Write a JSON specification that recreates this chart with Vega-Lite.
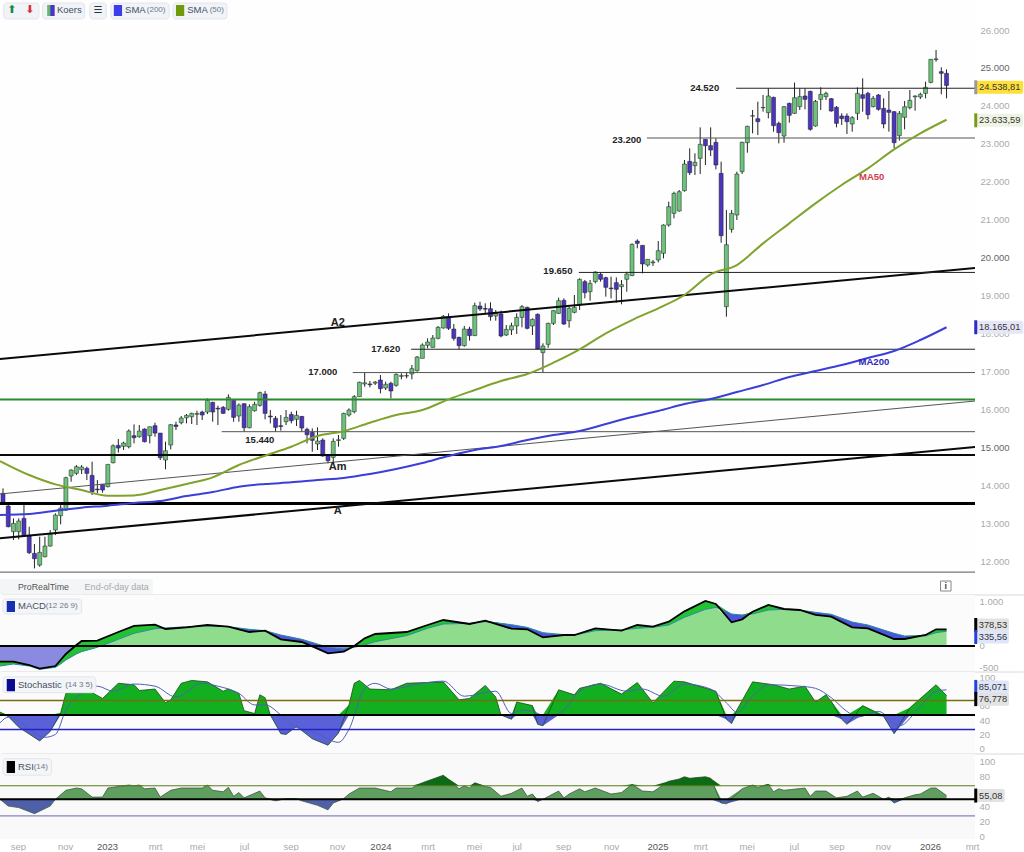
{
"$schema":"https://vega.github.io/schema/vega-lite/v6.json",
"background":"#ffffff","padding":0,"spacing":0,"bounds":"flush","autosize":{"type":"pad"},
"config":{"view":{"stroke":null},"text":{"font":"Liberation Sans"},"axis":{"labelFont":"Liberation Sans","domain":false,"ticks":false,"grid":false,"labelOverlap":false,"labelBound":false}},
"datasets":{
"candles":[
{"d":"2022-08-15","o":13786,"h":13918,"l":13478,"c":13505},{"d":"2022-08-22","o":13452,"h":13478,"l":12890,"c":12907},{"d":"2022-08-29","o":12775,"h":13127,"l":12556,"c":12995},{"d":"2022-09-05","o":12775,"h":13127,"l":12573,"c":13057},{"d":"2022-09-12","o":13127,"h":13478,"l":12643,"c":12661},{"d":"2022-09-19","o":12661,"h":12907,"l":12187,"c":12222},{"d":"2022-09-26","o":12204,"h":12450,"l":11809,"c":12063},{"d":"2022-10-03","o":11896,"h":12643,"l":11852,"c":12231},{"d":"2022-10-10","o":12116,"h":12643,"l":12099,"c":12397},{"d":"2022-10-17","o":12397,"h":12819,"l":12380,"c":12714},
{"d":"2022-10-24","o":12819,"h":13259,"l":12687,"c":13215},{"d":"2022-10-31","o":13197,"h":13478,"l":12968,"c":13399},{"d":"2022-11-07","o":13346,"h":14225,"l":13329,"c":14199},{"d":"2022-11-14","o":14243,"h":14419,"l":14093,"c":14401},{"d":"2022-11-21","o":14313,"h":14533,"l":14269,"c":14489},{"d":"2022-11-28","o":14410,"h":14533,"l":14296,"c":14480},{"d":"2022-12-05","o":14445,"h":14489,"l":14137,"c":14313},{"d":"2022-12-12","o":14260,"h":14621,"l":13742,"c":13830},{"d":"2022-12-19","o":13900,"h":14137,"l":13786,"c":13880},{"d":"2022-12-26","o":14023,"h":14023,"l":13804,"c":13874},
{"d":"2023-01-02","o":13962,"h":14550,"l":13944,"c":14550},{"d":"2023-01-09","o":14594,"h":15078,"l":14577,"c":15042},{"d":"2023-01-16","o":15051,"h":15218,"l":14858,"c":14981},{"d":"2023-01-23","o":15025,"h":15148,"l":14928,"c":15113},{"d":"2023-01-30","o":15016,"h":15473,"l":14972,"c":15429},{"d":"2023-02-06","o":15306,"h":15605,"l":15104,"c":15253},{"d":"2023-02-13","o":15280,"h":15587,"l":15253,"c":15429},{"d":"2023-02-20","o":15482,"h":15500,"l":15130,"c":15148},{"d":"2023-02-27","o":15306,"h":15543,"l":15104,"c":15543},{"d":"2023-03-06","o":15570,"h":15649,"l":15280,"c":15376},
{"d":"2023-03-13","o":15376,"h":15376,"l":14665,"c":14726},{"d":"2023-03-20","o":14665,"h":15148,"l":14419,"c":14911},{"d":"2023-03-27","o":15060,"h":15614,"l":14946,"c":15596},{"d":"2023-04-03","o":15590,"h":15675,"l":15456,"c":15550},{"d":"2023-04-10","o":15649,"h":15825,"l":15605,"c":15772},{"d":"2023-04-17","o":15780,"h":15877,"l":15631,"c":15842},{"d":"2023-04-24","o":15807,"h":15912,"l":15614,"c":15895},{"d":"2023-05-01","o":15870,"h":15965,"l":15587,"c":15890},{"d":"2023-05-08","o":15930,"h":15965,"l":15719,"c":15851},{"d":"2023-05-15","o":15930,"h":16290,"l":15877,"c":16237},
{"d":"2023-05-22","o":16185,"h":16202,"l":15675,"c":15930},{"d":"2023-05-29","o":16030,"h":16097,"l":15587,"c":16010},{"d":"2023-06-05","o":16053,"h":16088,"l":15877,"c":15895},{"d":"2023-06-12","o":16000,"h":16396,"l":15965,"c":16317},{"d":"2023-06-19","o":16237,"h":16246,"l":15675,"c":15789},{"d":"2023-06-26","o":15825,"h":16158,"l":15675,"c":16114},{"d":"2023-07-03","o":16150,"h":16158,"l":15412,"c":15517},{"d":"2023-07-10","o":15517,"h":16132,"l":15500,"c":16071},{"d":"2023-07-17","o":15965,"h":16202,"l":15939,"c":16132},{"d":"2023-07-24","o":16106,"h":16466,"l":16071,"c":16440},
{"d":"2023-07-31","o":16405,"h":16484,"l":15737,"c":15895},{"d":"2023-08-07","o":15825,"h":15983,"l":15631,"c":15800},{"d":"2023-08-14","o":15763,"h":15825,"l":15412,"c":15526},{"d":"2023-08-21","o":15570,"h":15851,"l":15438,"c":15550},{"d":"2023-08-28","o":15675,"h":15983,"l":15587,"c":15789},{"d":"2023-09-04","o":15868,"h":15939,"l":15631,"c":15701},{"d":"2023-09-11","o":15737,"h":15965,"l":15561,"c":15842},{"d":"2023-09-18","o":15816,"h":15825,"l":15412,"c":15508},{"d":"2023-09-25","o":15473,"h":15517,"l":15104,"c":15332},{"d":"2023-10-02","o":15394,"h":15500,"l":14884,"c":15183},
{"d":"2023-10-09","o":15087,"h":15526,"l":14928,"c":15165},{"d":"2023-10-16","o":15192,"h":15236,"l":14753,"c":14770},{"d":"2023-10-23","o":14779,"h":14797,"l":14577,"c":14647},{"d":"2023-10-30","o":14735,"h":15236,"l":14577,"c":15157},{"d":"2023-11-06","o":15180,"h":15324,"l":15016,"c":15200},{"d":"2023-11-13","o":15236,"h":15912,"l":15192,"c":15895},{"d":"2023-11-20","o":15851,"h":16027,"l":15807,"c":15983},{"d":"2023-11-27","o":15939,"h":16378,"l":15895,"c":16335},{"d":"2023-12-04","o":16335,"h":16730,"l":16335,"c":16713},{"d":"2023-12-11","o":16670,"h":16967,"l":16598,"c":16700},
{"d":"2023-12-18","o":16670,"h":16748,"l":16581,"c":16650},{"d":"2023-12-25","o":16690,"h":16748,"l":16642,"c":16720},{"d":"2024-01-01","o":16774,"h":16906,"l":16423,"c":16545},{"d":"2024-01-08","o":16563,"h":16730,"l":16510,"c":16660},{"d":"2024-01-15","o":16686,"h":16730,"l":16291,"c":16484},{"d":"2024-01-22","o":16633,"h":16950,"l":16598,"c":16923},{"d":"2024-01-29","o":16870,"h":16950,"l":16792,"c":16890},{"d":"2024-02-05","o":16880,"h":16967,"l":16818,"c":16890},{"d":"2024-02-12","o":16932,"h":17169,"l":16792,"c":17073},{"d":"2024-02-19","o":17020,"h":17407,"l":16994,"c":17380},
{"d":"2024-02-26","o":17345,"h":17741,"l":17345,"c":17697},{"d":"2024-03-04","o":17688,"h":17872,"l":17609,"c":17776},{"d":"2024-03-11","o":17635,"h":17960,"l":17626,"c":17881},{"d":"2024-03-18","o":17872,"h":18198,"l":17846,"c":18162},{"d":"2024-03-25","o":18145,"h":18487,"l":18127,"c":18452},{"d":"2024-04-01","o":18444,"h":18531,"l":18092,"c":18136},{"d":"2024-04-08","o":18118,"h":18250,"l":17811,"c":17872},{"d":"2024-04-15","o":17899,"h":17916,"l":17591,"c":17679},{"d":"2024-04-22","o":17679,"h":18198,"l":17653,"c":18118},{"d":"2024-04-29","o":18118,"h":18180,"l":17811,"c":17943},
{"d":"2024-05-06","o":17943,"h":18813,"l":17934,"c":18734},{"d":"2024-05-13","o":18725,"h":18839,"l":18593,"c":18646},{"d":"2024-05-20","o":18660,"h":18795,"l":18532,"c":18640},{"d":"2024-05-27","o":18654,"h":18822,"l":18338,"c":18444},{"d":"2024-06-03","o":18461,"h":18619,"l":18338,"c":18531},{"d":"2024-06-10","o":18514,"h":18602,"l":17899,"c":17934},{"d":"2024-06-17","o":17960,"h":18224,"l":17934,"c":18110},{"d":"2024-06-24","o":18092,"h":18285,"l":17960,"c":18206},{"d":"2024-07-01","o":18198,"h":18531,"l":17987,"c":18426},{"d":"2024-07-08","o":18426,"h":18751,"l":18162,"c":18707},
{"d":"2024-07-15","o":18690,"h":18707,"l":18110,"c":18136},{"d":"2024-07-22","o":18198,"h":18400,"l":17960,"c":18373},{"d":"2024-07-29","o":18505,"h":18531,"l":17591,"c":17591},{"d":"2024-08-05","o":17495,"h":17741,"l":16967,"c":17670},{"d":"2024-08-12","o":17714,"h":18285,"l":17626,"c":18268},{"d":"2024-08-19","o":18268,"h":18619,"l":18224,"c":18602},{"d":"2024-08-26","o":18531,"h":18944,"l":18514,"c":18865},{"d":"2024-09-02","o":18874,"h":18927,"l":18224,"c":18250},{"d":"2024-09-09","o":18338,"h":18707,"l":18154,"c":18663},{"d":"2024-09-16","o":18558,"h":19015,"l":18531,"c":18690},
{"d":"2024-09-23","o":18751,"h":19454,"l":18619,"c":19428},{"d":"2024-09-30","o":19366,"h":19410,"l":18927,"c":19076},{"d":"2024-10-07","o":19103,"h":19410,"l":18865,"c":19322},{"d":"2024-10-14","o":19366,"h":19639,"l":19322,"c":19621},{"d":"2024-10-21","o":19560,"h":19603,"l":19366,"c":19428},{"d":"2024-10-28","o":19472,"h":19498,"l":18971,"c":19217},{"d":"2024-11-04","o":19200,"h":19498,"l":18927,"c":19180},{"d":"2024-11-11","o":19340,"h":19480,"l":18813,"c":19164},{"d":"2024-11-18","o":19234,"h":19410,"l":18769,"c":19287},{"d":"2024-11-25","o":19428,"h":19630,"l":19103,"c":19568},
{"d":"2024-12-02","o":19524,"h":20376,"l":19515,"c":20350},{"d":"2024-12-09","o":20438,"h":20482,"l":20245,"c":20376},{"d":"2024-12-16","o":20324,"h":20324,"l":19585,"c":19832},{"d":"2024-12-23","o":19805,"h":19955,"l":19761,"c":19955},{"d":"2024-12-30","o":19865,"h":19937,"l":19779,"c":19885},{"d":"2025-01-06","o":19937,"h":20438,"l":19875,"c":20183},{"d":"2025-01-13","o":20113,"h":20877,"l":19981,"c":20860},{"d":"2025-01-20","o":20860,"h":21475,"l":20816,"c":21343},{"d":"2025-01-27","o":21167,"h":21738,"l":21035,"c":21694},{"d":"2025-02-03","o":21229,"h":21782,"l":21211,"c":21738},
{"d":"2025-02-10","o":21765,"h":22573,"l":21738,"c":22468},{"d":"2025-02-17","o":22538,"h":22881,"l":22178,"c":22239},{"d":"2025-02-24","o":22424,"h":22749,"l":22178,"c":22512},{"d":"2025-03-03","o":22617,"h":23434,"l":22204,"c":22986},{"d":"2025-03-10","o":23118,"h":23118,"l":22441,"c":22951},{"d":"2025-03-17","o":22951,"h":23434,"l":22678,"c":22837},{"d":"2025-03-24","o":23039,"h":23144,"l":22327,"c":22441},{"d":"2025-03-31","o":22222,"h":22529,"l":20394,"c":20578},{"d":"2025-04-07","o":18707,"h":21255,"l":18443,"c":20341},{"d":"2025-04-14","o":20745,"h":21255,"l":20658,"c":21167},
{"d":"2025-04-21","o":21123,"h":22266,"l":20991,"c":22204},{"d":"2025-04-28","o":22266,"h":23056,"l":22204,"c":23039},{"d":"2025-05-05","o":23030,"h":23478,"l":22766,"c":23461},{"d":"2025-05-12","o":23730,"h":23891,"l":23276,"c":23740},{"d":"2025-05-19","o":23663,"h":24111,"l":23232,"c":23584},{"d":"2025-05-26","o":23950,"h":24287,"l":23847,"c":23960},{"d":"2025-06-02","o":23821,"h":24462,"l":23671,"c":24260},{"d":"2025-06-09","o":24225,"h":24243,"l":23320,"c":23478},{"d":"2025-06-16","o":23540,"h":23584,"l":23012,"c":23294},{"d":"2025-06-23","o":23206,"h":23997,"l":23030,"c":23979},
{"d":"2025-06-30","o":24067,"h":24084,"l":23557,"c":23751},{"d":"2025-07-07","o":23803,"h":24612,"l":23786,"c":24216},{"d":"2025-07-14","o":23979,"h":24462,"l":23891,"c":24243},{"d":"2025-07-21","o":24260,"h":24462,"l":23909,"c":24172},{"d":"2025-07-28","o":24383,"h":24401,"l":23346,"c":23382},{"d":"2025-08-04","o":23469,"h":24155,"l":23452,"c":24120},{"d":"2025-08-11","o":24172,"h":24489,"l":23891,"c":24304},{"d":"2025-08-18","o":24243,"h":24374,"l":24155,"c":24330},{"d":"2025-08-25","o":24190,"h":24207,"l":23847,"c":23865},{"d":"2025-09-01","o":23961,"h":23997,"l":23434,"c":23540},
{"d":"2025-09-08","o":23733,"h":23803,"l":23496,"c":23663},{"d":"2025-09-15","o":23733,"h":23803,"l":23258,"c":23584},{"d":"2025-09-22","o":23522,"h":23733,"l":23320,"c":23689},{"d":"2025-09-29","o":23803,"h":24489,"l":23628,"c":24330},{"d":"2025-10-06","o":24295,"h":24726,"l":23847,"c":24199},{"d":"2025-10-13","o":24330,"h":24374,"l":23645,"c":23768},{"d":"2025-10-20","o":23979,"h":24260,"l":23961,"c":24199},{"d":"2025-10-27","o":24286,"h":24313,"l":23874,"c":23909},{"d":"2025-11-03","o":23935,"h":24199,"l":23408,"c":23522},{"d":"2025-11-10","o":23891,"h":24392,"l":23320,"c":23830},
{"d":"2025-11-17","o":23847,"h":23865,"l":22881,"c":23030},{"d":"2025-11-24","o":23215,"h":23865,"l":23083,"c":23803},{"d":"2025-12-01","o":23698,"h":24128,"l":23382,"c":23979},{"d":"2025-12-08","o":23953,"h":24418,"l":23909,"c":24146},{"d":"2025-12-15","o":24240,"h":24278,"l":23873,"c":24260},{"d":"2025-12-22","o":24234,"h":24348,"l":24181,"c":24304},{"d":"2025-12-29","o":24330,"h":24638,"l":24199,"c":24489},{"d":"2026-01-05","o":24620,"h":25236,"l":24594,"c":25227},{"d":"2026-01-12","o":25220,"h":25473,"l":25165,"c":25240},{"d":"2026-01-19","o":24902,"h":25016,"l":24304,"c":24858},{"d":"2026-01-26","o":24858,"h":24963,"l":24199,"c":24538}
],
"ma":[
{"d":"2022-08-11","ma50":14638,"ma200":13215},{"d":"2022-09-19","ma50":14269,"ma200":13240},{"d":"2022-10-24","ma50":14023,"ma200":13329},{"d":"2022-11-28","ma50":13874,"ma200":13408},{"d":"2023-01-02","ma50":13724,"ma200":13461},{"d":"2023-02-06","ma50":13733,"ma200":13531},{"d":"2023-03-13","ma50":13874,"ma200":13584},{"d":"2023-04-17","ma50":14032,"ma200":13716},{"d":"2023-05-22","ma50":14208,"ma200":13821},{"d":"2023-06-26","ma50":14533,"ma200":13962},{"d":"2023-07-31","ma50":14779,"ma200":14032},{"d":"2023-09-04","ma50":15016,"ma200":14076},{"d":"2023-10-09","ma50":15297,"ma200":14137},{"d":"2023-11-13","ma50":15425,"ma200":14190},{"d":"2023-12-18","ma50":15649,"ma200":14296},{"d":"2024-01-22","ma50":15851,"ma200":14428},{"d":"2024-02-26","ma50":15983,"ma200":14586},{"d":"2024-04-01","ma50":16264,"ma200":14770},{"d":"2024-05-06","ma50":16510,"ma200":14929},{"d":"2024-06-10","ma50":16748,"ma200":15034},{"d":"2024-07-15","ma50":16932,"ma200":15192},{"d":"2024-08-19","ma50":17231,"ma200":15324},{"d":"2024-09-23","ma50":17583,"ma200":15430},{"d":"2024-10-28","ma50":18004,"ma200":15614},{"d":"2024-12-02","ma50":18355,"ma200":15799},{"d":"2025-01-06","ma50":18663,"ma200":15957},{"d":"2025-02-10","ma50":19014,"ma200":16141},{"d":"2025-03-17","ma50":19559,"ma200":16273},{"d":"2025-04-21","ma50":19805,"ma200":16458},{"d":"2025-05-26","ma50":20376,"ma200":16642},{"d":"2025-06-30","ma50":20904,"ma200":16853},{"d":"2025-08-04","ma50":21431,"ma200":17011},{"d":"2025-09-08","ma50":21914,"ma200":17169},{"d":"2025-10-13","ma50":22353,"ma200":17354},{"d":"2025-11-17","ma50":22854,"ma200":17538},{"d":"2025-12-22","ma50":23276,"ma200":17828},{"d":"2026-01-26","ma50":23634,"ma200":18165}
],
"lines":[
{"name":"A2","d":"2022-08-11","v":17327},{"name":"A2","d":"2026-03-05","v":19726},
{"name":"A","d":"2022-08-11","v":12600},{"name":"A","d":"2026-03-05","v":15008},
{"name":"Am","d":"2022-08-11","v":13770},{"name":"Am","d":"2026-03-05","v":16220},
{"name":"h13520","d":"2022-08-11","v":13520},{"name":"h13520","d":"2026-03-05","v":13520},
{"name":"h14800","d":"2022-08-11","v":14800},{"name":"h14800","d":"2026-03-05","v":14800},
{"name":"h16260","d":"2022-08-11","v":16260},{"name":"h16260","d":"2026-03-05","v":16260},
{"name":"h15440","d":"2023-06-03","v":15412},{"name":"h15440","d":"2026-03-05","v":15412},
{"name":"h17000","d":"2023-11-25","v":16970},{"name":"h17000","d":"2026-03-05","v":16970},
{"name":"h17620","d":"2024-02-11","v":17585},{"name":"h17620","d":"2026-03-05","v":17585},
{"name":"h19650","d":"2024-09-22","v":19610},{"name":"h19650","d":"2026-03-05","v":19610},
{"name":"h23200","d":"2024-12-22","v":23153},{"name":"h23200","d":"2026-03-05","v":23153},
{"name":"h24520","d":"2025-04-20","v":24465},{"name":"h24520","d":"2026-03-05","v":24465},
{"name":"h11710","d":"2022-08-11","v":11710},{"name":"h11710","d":"2026-03-05","v":11710}
],
"notes":[
{"d":"2025-03-09","p":24471,"label":"24.520","kind":"level"},{"d":"2024-11-25","p":23100,"label":"23.200","kind":"level"},{"d":"2024-08-25","p":19647,"label":"19.650","kind":"level"},{"d":"2024-01-08","p":17591,"label":"17.620","kind":"level"},{"d":"2023-10-16","p":16985,"label":"17.000","kind":"level"},{"d":"2023-07-24","p":15192,"label":"15.440","kind":"level"},
{"d":"2023-11-05","p":18276,"label":"A2","kind":"trend"},{"d":"2023-11-05","p":14480,"label":"Am","kind":"trend"},{"d":"2023-11-05","p":13320,"label":"A","kind":"trend"},
{"d":"2025-10-18","p":22125,"label":"MA50","kind":"ma50"},{"d":"2025-10-21","p":17248,"label":"MA200","kind":"ma200"},
{"d":"2022-10-26","p":26527,"label":"Koers","kind":"chip"},{"d":"2023-01-25","p":26527,"label":"SMA","kind":"chip"},{"d":"2023-04-18","p":26527,"label":"SMA","kind":"chip"},
{"d":"2023-02-23","p":26527,"label":"(200)","kind":"param"},{"d":"2023-05-18","p":26527,"label":"(50)","kind":"param"},
{"d":"2022-09-04","p":11317,"label":"ProRealTime","kind":"prt"},{"d":"2022-12-02","p":11317,"label":"End-of-day data","kind":"eod"}
],
"flags":[
{"panel":"price","kind":"last","label":"24.538,81","p":24490,"d":"2026-04-07","b":"2026-03-06"},
{"panel":"price","kind":"ma50","label":"23.633,59","p":23620,"d":"2026-04-07","b":"2026-03-06"},
{"panel":"price","kind":"ma200","label":"18.165,01","p":18165,"d":"2026-04-07","b":"2026-03-06"},
{"panel":"macd","kind":"black","label":"378,53","p":477,"d":"2026-03-29","b":"2026-03-06"},
{"panel":"macd","kind":"blue","label":"335,56","p":205,"d":"2026-03-29","b":"2026-03-06"},
{"panel":"stoch","kind":"blue","label":"85,071","p":89,"d":"2026-03-29","b":"2026-03-06"},
{"panel":"stoch","kind":"black","label":"76,778","p":72,"d":"2026-03-29","b":"2026-03-06"},
{"panel":"rsi","kind":"black","label":"55,08","p":55,"d":"2026-03-26","b":"2026-03-06"}
],
"levels":[
{"panel":"macd","lv":0,"d":"2022-08-11"},{"panel":"macd","lv":0,"d":"2026-03-05"},
{"panel":"stoch","lv":70,"d":"2022-08-11"},{"panel":"stoch","lv":70,"d":"2026-03-05"},
{"panel":"stoch","lv":50,"d":"2022-08-11"},{"panel":"stoch","lv":50,"d":"2026-03-05"},
{"panel":"stoch","lv":30,"d":"2022-08-11"},{"panel":"stoch","lv":30,"d":"2026-03-05"},
{"panel":"rsi","lv":68,"d":"2022-08-11"},{"panel":"rsi","lv":68,"d":"2026-03-05"},
{"panel":"rsi","lv":50,"d":"2022-08-11"},{"panel":"rsi","lv":50,"d":"2026-03-05"},
{"panel":"rsi","lv":28,"d":"2022-08-11"},{"panel":"rsi","lv":28,"d":"2026-03-05"}
],
"macd":[
{"d":"2022-08-11","m":-356,"s":-455,"hi":-356,"pos":0,"neg":-356},{"d":"2022-08-29","m":-356,"s":-409,"hi":-356,"pos":0,"neg":-356},{"d":"2022-09-19","m":-432,"s":-455,"hi":-432,"pos":0,"neg":-432},{"d":"2022-10-03","m":-515,"s":-530,"hi":-515,"pos":0,"neg":-515},{"d":"2022-10-24","m":-455,"s":-485,"hi":-455,"pos":0,"neg":-455},{"d":"2022-10-31","m":-318,"s":-409,"hi":-318,"pos":0,"neg":-318},{"d":"2022-11-07","m":-182,"s":-318,"hi":-182,"pos":0,"neg":-182},{"d":"2022-11-21","m":23,"s":-182,"hi":23,"pos":0,"neg":0},{"d":"2022-11-28","m":114,"s":-129,"hi":114,"pos":0,"neg":0},{"d":"2022-12-19","m":121,"s":-30,"hi":121,"pos":0,"neg":0},
{"d":"2023-01-16","m":318,"s":152,"hi":318,"pos":152,"neg":0},{"d":"2023-02-06","m":455,"s":288,"hi":455,"pos":288,"neg":0},{"d":"2023-03-06","m":485,"s":394,"hi":485,"pos":394,"neg":0},{"d":"2023-03-20","m":386,"s":409,"hi":409,"pos":386,"neg":0},{"d":"2023-04-17","m":424,"s":439,"hi":439,"pos":424,"neg":0},{"d":"2023-05-15","m":477,"s":455,"hi":477,"pos":455,"neg":0},{"d":"2023-06-12","m":439,"s":439,"hi":439,"pos":439,"neg":0},{"d":"2023-07-10","m":318,"s":379,"hi":379,"pos":318,"neg":0},{"d":"2023-07-31","m":348,"s":348,"hi":348,"pos":348,"neg":0},{"d":"2023-08-21","m":152,"s":250,"hi":250,"pos":152,"neg":0},{"d":"2023-09-18","m":91,"s":152,"hi":152,"pos":91,"neg":0},
{"d":"2023-10-09","m":-61,"s":45,"hi":45,"pos":0,"neg":0},{"d":"2023-10-23","m":-167,"s":-30,"hi":-30,"pos":0,"neg":-30},{"d":"2023-11-13","m":-129,"s":-68,"hi":-68,"pos":0,"neg":-68},{"d":"2023-11-27","m":0,"s":-30,"hi":0,"pos":0,"neg":0},{"d":"2023-12-11","m":174,"s":23,"hi":174,"pos":23,"neg":0},{"d":"2023-12-25","m":273,"s":98,"hi":273,"pos":98,"neg":0},{"d":"2024-02-05","m":318,"s":235,"hi":318,"pos":235,"neg":0},{"d":"2024-03-04","m":477,"s":402,"hi":477,"pos":402,"neg":0},{"d":"2024-03-25","m":591,"s":500,"hi":591,"pos":500,"neg":0},{"d":"2024-04-29","m":500,"s":515,"hi":515,"pos":500,"neg":0},{"d":"2024-05-20","m":576,"s":553,"hi":576,"pos":553,"neg":0},{"d":"2024-06-24","m":394,"s":485,"hi":485,"pos":394,"neg":0},{"d":"2024-07-15","m":379,"s":424,"hi":424,"pos":379,"neg":0},{"d":"2024-08-05","m":197,"s":303,"hi":303,"pos":197,"neg":0},{"d":"2024-09-02","m":250,"s":258,"hi":258,"pos":250,"neg":0},{"d":"2024-09-16","m":250,"s":250,"hi":250,"pos":250,"neg":0},{"d":"2024-10-14","m":402,"s":348,"hi":402,"pos":348,"neg":0},{"d":"2024-11-18","m":348,"s":364,"hi":364,"pos":348,"neg":0},{"d":"2024-12-09","m":477,"s":402,"hi":477,"pos":402,"neg":0},{"d":"2024-12-30","m":439,"s":424,"hi":439,"pos":424,"neg":0},
{"d":"2025-01-20","m":553,"s":477,"hi":553,"pos":477,"neg":0},{"d":"2025-02-10","m":788,"s":652,"hi":788,"pos":652,"neg":0},{"d":"2025-03-10","m":1023,"s":833,"hi":1023,"pos":833,"neg":0},{"d":"2025-03-24","m":955,"s":879,"hi":955,"pos":879,"neg":0},{"d":"2025-04-14","m":538,"s":727,"hi":727,"pos":538,"neg":0},{"d":"2025-04-28","m":606,"s":704,"hi":704,"pos":606,"neg":0},{"d":"2025-05-12","m":780,"s":727,"hi":780,"pos":727,"neg":0},{"d":"2025-06-02","m":932,"s":818,"hi":932,"pos":818,"neg":0},{"d":"2025-06-23","m":841,"s":833,"hi":841,"pos":833,"neg":0},{"d":"2025-07-14","m":818,"s":818,"hi":818,"pos":818,"neg":0},{"d":"2025-08-04","m":705,"s":765,"hi":765,"pos":705,"neg":0},{"d":"2025-08-25","m":667,"s":720,"hi":720,"pos":667,"neg":0},{"d":"2025-09-22","m":424,"s":545,"hi":545,"pos":424,"neg":0},{"d":"2025-10-13","m":402,"s":477,"hi":477,"pos":402,"neg":0},{"d":"2025-11-17","m":159,"s":288,"hi":288,"pos":159,"neg":0},{"d":"2025-12-01","m":159,"s":227,"hi":227,"pos":159,"neg":0},{"d":"2025-12-29","m":250,"s":227,"hi":250,"pos":227,"neg":0},{"d":"2026-01-12","m":379,"s":303,"hi":379,"pos":303,"neg":0},{"d":"2026-01-26","m":378,"s":336,"hi":378,"pos":336,"neg":0}
],
"stochK":[
{"d":"2022-08-11","k":54,"up":54,"dn":50},{"d":"2022-08-22","k":48,"up":50,"dn":48},{"d":"2022-09-05","k":33,"up":50,"dn":33},{"d":"2022-10-03","k":14,"up":50,"dn":14},{"d":"2022-10-17","k":27,"up":50,"dn":27},{"d":"2022-10-31","k":53,"up":53,"dn":50},{"d":"2022-11-07","k":80,"up":80,"dn":50},{"d":"2022-11-28","k":84,"up":84,"dn":50},{"d":"2022-12-12","k":81,"up":81,"dn":50},{"d":"2022-12-26","k":73,"up":73,"dn":50},{"d":"2023-01-16","k":94,"up":94,"dn":50},{"d":"2023-02-06","k":92,"up":92,"dn":50},{"d":"2023-02-13","k":84,"up":84,"dn":50},{"d":"2023-03-06","k":86,"up":86,"dn":50},{"d":"2023-03-20","k":67,"up":67,"dn":50},{"d":"2023-03-27","k":71,"up":71,"dn":50},{"d":"2023-04-10","k":94,"up":94,"dn":50},{"d":"2023-04-24","k":98,"up":98,"dn":50},{"d":"2023-05-15","k":96,"up":96,"dn":50},{"d":"2023-06-05","k":83,"up":83,"dn":50},{"d":"2023-06-12","k":86,"up":86,"dn":50},{"d":"2023-06-26","k":80,"up":80,"dn":50},{"d":"2023-07-03","k":56,"up":56,"dn":50},{"d":"2023-07-17","k":52,"up":52,"dn":50},{"d":"2023-07-24","k":78,"up":78,"dn":50},{"d":"2023-07-31","k":74,"up":74,"dn":50},{"d":"2023-08-07","k":50,"up":50,"dn":50},{"d":"2023-08-21","k":24,"up":50,"dn":24},{"d":"2023-08-28","k":23,"up":50,"dn":23},{"d":"2023-09-11","k":34,"up":50,"dn":34},{"d":"2023-10-02","k":17,"up":50,"dn":17},{"d":"2023-10-23","k":8,"up":50,"dn":8},{"d":"2023-11-06","k":25,"up":50,"dn":25},{"d":"2023-11-20","k":64,"up":64,"dn":50},{"d":"2023-11-27","k":94,"up":94,"dn":50},{"d":"2023-12-04","k":98,"up":98,"dn":50},{"d":"2023-12-18","k":86,"up":86,"dn":50},{"d":"2024-01-15","k":85,"up":85,"dn":50},{"d":"2024-02-05","k":94,"up":94,"dn":50},{"d":"2024-03-25","k":96,"up":96,"dn":50},{"d":"2024-04-15","k":71,"up":71,"dn":50},{"d":"2024-04-29","k":73,"up":73,"dn":50},{"d":"2024-05-20","k":91,"up":91,"dn":50},{"d":"2024-06-03","k":75,"up":75,"dn":50},{"d":"2024-06-10","k":50,"up":50,"dn":50},{"d":"2024-06-24","k":44,"up":50,"dn":44},{"d":"2024-07-01","k":68,"up":68,"dn":50},{"d":"2024-07-22","k":63,"up":63,"dn":50},{"d":"2024-07-29","k":37,"up":50,"dn":37},{"d":"2024-08-05","k":35,"up":50,"dn":35},{"d":"2024-08-26","k":85,"up":85,"dn":50},{"d":"2024-09-16","k":78,"up":78,"dn":50},{"d":"2024-09-23","k":87,"up":87,"dn":50},{"d":"2024-10-21","k":94,"up":94,"dn":50},{"d":"2024-11-18","k":79,"up":79,"dn":50},{"d":"2024-12-09","k":95,"up":95,"dn":50},{"d":"2024-12-30","k":67,"up":67,"dn":50},{"d":"2025-01-27","k":97,"up":97,"dn":50},{"d":"2025-02-10","k":96,"up":96,"dn":50},{"d":"2025-03-24","k":83,"up":83,"dn":50},{"d":"2025-04-07","k":44,"up":50,"dn":44},{"d":"2025-04-14","k":38,"up":50,"dn":38},{"d":"2025-04-21","k":57,"up":57,"dn":50},{"d":"2025-05-12","k":96,"up":96,"dn":50},{"d":"2025-06-09","k":92,"up":92,"dn":50},{"d":"2025-06-30","k":86,"up":86,"dn":50},{"d":"2025-07-21","k":90,"up":90,"dn":50},{"d":"2025-08-04","k":68,"up":68,"dn":50},{"d":"2025-08-18","k":78,"up":78,"dn":50},{"d":"2025-08-25","k":69,"up":69,"dn":50},{"d":"2025-09-08","k":44,"up":50,"dn":44},{"d":"2025-09-15","k":37,"up":50,"dn":37},{"d":"2025-10-06","k":63,"up":63,"dn":50},{"d":"2025-11-03","k":48,"up":50,"dn":48},{"d":"2025-11-17","k":24,"up":50,"dn":24},{"d":"2025-12-08","k":60,"up":60,"dn":50},{"d":"2026-01-12","k":92,"up":92,"dn":50},{"d":"2026-01-26","k":77,"up":77,"dn":50}
],
"stochD":[
{"d":"2022-08-11","v":39},{"d":"2022-08-22","v":47},{"d":"2022-09-05","v":41},{"d":"2022-09-26","v":25},{"d":"2022-10-10","v":19},{"d":"2022-10-24","v":23},{"d":"2022-11-07","v":57},{"d":"2022-11-28","v":80},{"d":"2022-12-19","v":90},{"d":"2023-01-09","v":83},{"d":"2023-02-06","v":93},{"d":"2023-03-06","v":90},{"d":"2023-04-03","v":75},{"d":"2023-05-08","v":94},{"d":"2023-05-29","v":90},{"d":"2023-06-26","v":80},{"d":"2023-07-17","v":64},{"d":"2023-07-31","v":64},{"d":"2023-08-21","v":50},{"d":"2023-09-04","v":37},{"d":"2023-10-09","v":24},{"d":"2023-11-06","v":12},{"d":"2023-11-20","v":30},{"d":"2023-12-11","v":87},{"d":"2023-12-25","v":94},{"d":"2024-01-15","v":86},{"d":"2024-02-26","v":94},{"d":"2024-03-25","v":97},{"d":"2024-04-22","v":76},{"d":"2024-06-03","v":83},{"d":"2024-06-24","v":52},{"d":"2024-07-08","v":57},{"d":"2024-07-22","v":55},{"d":"2024-08-12","v":47},{"d":"2024-09-02","v":57},{"d":"2024-09-23","v":83},{"d":"2024-10-21","v":93},{"d":"2024-11-25","v":83},{"d":"2024-12-16","v":86},{"d":"2025-01-13","v":76},{"d":"2025-02-10","v":93},{"d":"2025-03-17","v":86},{"d":"2025-04-07","v":67},{"d":"2025-04-21","v":54},{"d":"2025-05-12","v":76},{"d":"2025-06-02","v":92},{"d":"2025-07-14","v":90},{"d":"2025-08-04","v":87},{"d":"2025-08-25","v":74},{"d":"2025-09-15","v":55},{"d":"2025-09-29","v":47},{"d":"2025-10-27","v":55},{"d":"2025-11-24","v":35},{"d":"2025-12-22","v":62},{"d":"2026-01-12","v":83},{"d":"2026-01-26","v":85}
],
"rsi":[
{"d":"2022-08-11","r":50,"up":50,"dn":50,"over":68},{"d":"2022-08-22","r":41,"up":50,"dn":41,"over":68},{"d":"2022-09-05","r":39,"up":50,"dn":39,"over":68},{"d":"2022-09-26","r":31,"up":50,"dn":31,"over":68},{"d":"2022-10-17","r":41,"up":50,"dn":41,"over":68},{"d":"2022-10-24","r":50,"up":50,"dn":50,"over":68},{"d":"2022-11-07","r":62,"up":62,"dn":50,"over":68},{"d":"2022-11-21","r":65,"up":65,"dn":50,"over":68},{"d":"2022-11-28","r":64,"up":64,"dn":50,"over":68},{"d":"2022-12-12","r":53,"up":53,"dn":50,"over":68},{"d":"2022-12-26","r":53,"up":53,"dn":50,"over":68},{"d":"2023-01-02","r":65,"up":65,"dn":50,"over":68},{"d":"2023-01-30","r":69,"up":69,"dn":50,"over":69},{"d":"2023-02-06","r":68,"up":68,"dn":50,"over":68},{"d":"2023-02-13","r":69,"up":69,"dn":50,"over":69},{"d":"2023-02-20","r":64,"up":64,"dn":50,"over":68},{"d":"2023-03-06","r":65,"up":65,"dn":50,"over":68},{"d":"2023-03-13","r":53,"up":53,"dn":50,"over":68},{"d":"2023-03-27","r":62,"up":62,"dn":50,"over":68},{"d":"2023-04-10","r":65,"up":65,"dn":50,"over":68},{"d":"2023-05-08","r":65,"up":65,"dn":50,"over":68},{"d":"2023-05-15","r":69,"up":69,"dn":50,"over":69},{"d":"2023-05-22","r":62,"up":62,"dn":50,"over":68},{"d":"2023-06-05","r":60,"up":60,"dn":50,"over":68},{"d":"2023-06-12","r":66,"up":66,"dn":50,"over":68},{"d":"2023-06-19","r":54,"up":54,"dn":50,"over":68},{"d":"2023-06-26","r":59,"up":59,"dn":50,"over":68},{"d":"2023-07-03","r":52,"up":52,"dn":50,"over":68},{"d":"2023-07-24","r":61,"up":61,"dn":50,"over":68},{"d":"2023-07-31","r":52,"up":52,"dn":50,"over":68},{"d":"2023-08-14","r":48,"up":50,"dn":48,"over":68},{"d":"2023-08-28","r":51,"up":51,"dn":50,"over":68},{"d":"2023-09-11","r":51,"up":51,"dn":50,"over":68},{"d":"2023-09-18","r":48,"up":50,"dn":48,"over":68},{"d":"2023-10-09","r":42,"up":50,"dn":42,"over":68},{"d":"2023-10-23","r":36,"up":50,"dn":36,"over":68},{"d":"2023-10-30","r":45,"up":50,"dn":45,"over":68},{"d":"2023-11-13","r":51,"up":51,"dn":50,"over":68},{"d":"2023-11-20","r":57,"up":57,"dn":50,"over":68},{"d":"2023-12-04","r":65,"up":65,"dn":50,"over":68},{"d":"2023-12-25","r":65,"up":65,"dn":50,"over":68},{"d":"2024-01-15","r":60,"up":60,"dn":50,"over":68},{"d":"2024-01-22","r":65,"up":65,"dn":50,"over":68},{"d":"2024-02-12","r":65,"up":65,"dn":50,"over":68},{"d":"2024-02-26","r":72,"up":72,"dn":50,"over":72},{"d":"2024-03-25","r":82,"up":82,"dn":50,"over":82},{"d":"2024-04-15","r":64,"up":64,"dn":50,"over":68},{"d":"2024-04-22","r":68,"up":68,"dn":50,"over":68},{"d":"2024-04-29","r":65,"up":65,"dn":50,"over":68},{"d":"2024-05-06","r":72,"up":72,"dn":50,"over":72},{"d":"2024-05-20","r":67,"up":67,"dn":50,"over":68},{"d":"2024-05-27","r":66,"up":66,"dn":50,"over":68},{"d":"2024-06-10","r":54,"up":54,"dn":50,"over":68},{"d":"2024-06-24","r":58,"up":58,"dn":50,"over":68},{"d":"2024-07-08","r":65,"up":65,"dn":50,"over":68},{"d":"2024-07-15","r":54,"up":54,"dn":50,"over":68},{"d":"2024-07-22","r":57,"up":57,"dn":50,"over":68},{"d":"2024-07-29","r":47,"up":50,"dn":47,"over":68},{"d":"2024-08-05","r":50,"up":50,"dn":50,"over":68},{"d":"2024-08-26","r":61,"up":61,"dn":50,"over":68},{"d":"2024-09-02","r":52,"up":52,"dn":50,"over":68},{"d":"2024-09-09","r":57,"up":57,"dn":50,"over":68},{"d":"2024-09-23","r":64,"up":64,"dn":50,"over":68},{"d":"2024-09-30","r":60,"up":60,"dn":50,"over":68},{"d":"2024-10-14","r":65,"up":65,"dn":50,"over":68},{"d":"2024-11-04","r":57,"up":57,"dn":50,"over":68},{"d":"2024-11-18","r":59,"up":59,"dn":50,"over":68},{"d":"2024-12-02","r":70,"up":70,"dn":50,"over":70},{"d":"2024-12-16","r":61,"up":61,"dn":50,"over":68},{"d":"2024-12-30","r":60,"up":60,"dn":50,"over":68},{"d":"2025-01-20","r":74,"up":74,"dn":50,"over":74},{"d":"2025-02-03","r":77,"up":77,"dn":50,"over":77},{"d":"2025-02-10","r":80,"up":80,"dn":50,"over":80},{"d":"2025-02-17","r":78,"up":78,"dn":50,"over":78},{"d":"2025-03-10","r":80,"up":80,"dn":50,"over":80},{"d":"2025-03-17","r":78,"up":78,"dn":50,"over":78},{"d":"2025-03-31","r":45,"up":50,"dn":45,"over":68},{"d":"2025-04-07","r":44,"up":50,"dn":44,"over":68},{"d":"2025-04-28","r":64,"up":64,"dn":50,"over":68},{"d":"2025-05-12","r":69,"up":69,"dn":50,"over":69},{"d":"2025-05-19","r":66,"up":66,"dn":50,"over":68},{"d":"2025-06-02","r":70,"up":70,"dn":50,"over":70},{"d":"2025-06-09","r":60,"up":60,"dn":50,"over":68},{"d":"2025-06-16","r":64,"up":64,"dn":50,"over":68},{"d":"2025-06-23","r":62,"up":62,"dn":50,"over":68},{"d":"2025-07-21","r":65,"up":65,"dn":50,"over":68},{"d":"2025-07-28","r":54,"up":54,"dn":50,"over":68},{"d":"2025-08-04","r":61,"up":61,"dn":50,"over":68},{"d":"2025-08-18","r":61,"up":61,"dn":50,"over":68},{"d":"2025-09-01","r":52,"up":52,"dn":50,"over":68},{"d":"2025-09-15","r":54,"up":54,"dn":50,"over":68},{"d":"2025-09-29","r":61,"up":61,"dn":50,"over":68},{"d":"2025-10-06","r":53,"up":53,"dn":50,"over":68},{"d":"2025-10-20","r":58,"up":58,"dn":50,"over":68},{"d":"2025-11-03","r":50,"up":50,"dn":50,"over":68},{"d":"2025-11-10","r":53,"up":53,"dn":50,"over":68},{"d":"2025-11-17","r":45,"up":50,"dn":45,"over":68},{"d":"2025-12-01","r":52,"up":52,"dn":50,"over":68},{"d":"2025-12-15","r":56,"up":56,"dn":50,"over":68},{"d":"2025-12-22","r":57,"up":57,"dn":50,"over":68},{"d":"2026-01-05","r":65,"up":65,"dn":50,"over":68},{"d":"2026-01-12","r":65,"up":65,"dn":50,"over":68},{"d":"2026-01-26","r":55,"up":55,"dn":50,"over":68}
]
},
"vconcat":[
{
"width":975,"height":595,"view":{"fill":"#fefefe","stroke":null},
"encoding":{"x":{"field":"d","type":"temporal","axis":null,"scale":{"domain":["2022-08-11","2026-03-05"],"nice":false,"padding":0}}},
"layer":[
{"data":{"values":[{"d":"2022-08-11","e":"2023-03-03","p":11528,"p2":11133}],"format":{"parse":{"d":"date","e":"date"}}},"mark":{"type":"rect","fill":"#f3f5f7"},
 "encoding":{"x2":{"field":"e"},"y":{"field":"p","type":"quantitative","title":null,"scale":{"domain":[11107,26791],"nice":false,"zero":false},"axis":{"orient":"right","title":null,"labelOverlap":false,"values":[12000,13000,14000,15000,16000,17000,18000,19000,20000,21000,22000,23000,24000,25000,26000],"labelExpr":"replace(format(datum.value,','),',','.')","labelFontSize":9.5,"labelPadding":5,"labelColor":{"condition":{"test":"datum.value%5000==0","value":"#666666"},"value":"#aaaaaa"}}},"y2":{"field":"p2"}}},
{"data":{"values":[{"d":"2022-08-16","e":"2022-10-02"},{"d":"2022-10-07","e":"2022-12-02"},{"d":"2022-12-09","e":"2022-12-31"},{"d":"2023-01-06","e":"2023-03-25"},{"d":"2023-03-30","e":"2023-06-10"}],"format":{"parse":{"d":"date","e":"date"}}},"mark":{"type":"rect","fill":"#f0f3f7","stroke":"#e2e6ec","strokeWidth":1,"cornerRadius":3},
 "encoding":{"x2":{"field":"e"},"y":{"datum":26712,"type":"quantitative"},"y2":{"datum":26290}}},
{"data":{"values":[{"d":"2022-10-13","e":"2022-10-17","col":"sw_up"},{"d":"2022-10-17","e":"2022-10-23","col":"sw_dn"},{"d":"2023-01-10","e":"2023-01-21","col":"sw_200"},{"d":"2023-04-03","e":"2023-04-14","col":"sw_50"}],"format":{"parse":{"d":"date","e":"date"}}},"mark":{"type":"rect"},
 "encoding":{"x2":{"field":"e"},"y":{"datum":26659,"type":"quantitative"},"y2":{"datum":26369},"fill":{"field":"col","type":"nominal","legend":null,"scale":{"domain":["last","ma50","ma200","black","blue","sw_up","sw_dn","sw_200","sw_50"],"range":["#ffe03a","#eef3e2","#e6e6f8","#e2e2e2","#dfe6fb","#62b96e","#4a35c0","#3c3ce8","#6f9a0c"]}}}},
{"data":{"name":"candles"},"mark":{"type":"rule","color":"#222222","strokeWidth":1},"encoding":{"y":{"field":"l","type":"quantitative"},"y2":{"field":"h"}}},
{"data":{"name":"candles"},"mark":{"type":"bar","size":4,"stroke":"#1a1a1a","strokeWidth":0.5},"encoding":{"y":{"field":"o","type":"quantitative"},"y2":{"field":"c"},"fill":{"condition":{"test":"datum.c>=datum.o","value":"#6cc47c"},"value":"#4a35c0"}}},
{"data":{"name":"lines"},"transform":[{"filter":{"field":"name","oneOf":["h13520"]}}],"mark":{"type":"line","clip":true,"color":"#000000","strokeWidth":3},"encoding":{"y":{"field":"v","type":"quantitative"}}},
{"data":{"name":"lines"},"transform":[{"filter":{"field":"name","oneOf":["A2","A","h14800"]}}],"mark":{"type":"line","clip":true,"color":"#0a0a0a","strokeWidth":2},"encoding":{"y":{"field":"v","type":"quantitative"},"detail":{"field":"name"}}},
{"data":{"name":"lines"},"transform":[{"filter":{"field":"name","oneOf":["h16260"]}}],"mark":{"type":"line","clip":true,"color":"#2a8a2a","strokeWidth":2},"encoding":{"y":{"field":"v","type":"quantitative"}}},
{"data":{"name":"lines"},"transform":[{"filter":{"field":"name","oneOf":["Am","h15440","h17000","h23200","h11710"]}}],"mark":{"type":"line","clip":true,"color":"#555555","strokeWidth":1},"encoding":{"y":{"field":"v","type":"quantitative"},"detail":{"field":"name"}}},
{"data":{"name":"lines"},"transform":[{"filter":{"field":"name","oneOf":["h17620","h19650","h24520"]}}],"mark":{"type":"line","clip":true,"color":"#222222","strokeWidth":1},"encoding":{"y":{"field":"v","type":"quantitative"},"detail":{"field":"name"}}},
{"data":{"name":"ma"},"mark":{"type":"line","clip":true,"color":"#7fa32c","strokeWidth":2,"interpolate":"monotone"},"encoding":{"y":{"field":"ma50","type":"quantitative"}}},
{"data":{"name":"ma"},"mark":{"type":"line","clip":true,"color":"#3b3fd8","strokeWidth":2,"interpolate":"monotone"},"encoding":{"y":{"field":"ma200","type":"quantitative"}}},
{"data":{"name":"notes"},"transform":[{"filter":"datum.kind=='level'"}],"mark":{"type":"text","fontWeight":"bold","fontSize":9.5,"color":"#222222"},"encoding":{"y":{"field":"p","type":"quantitative"},"text":{"field":"label"}}},
{"data":{"name":"notes"},"transform":[{"filter":"datum.kind=='trend'"}],"mark":{"type":"text","fontWeight":"bold","fontSize":11,"color":"#222222"},"encoding":{"y":{"field":"p","type":"quantitative"},"text":{"field":"label"}}},
{"data":{"name":"notes"},"transform":[{"filter":"datum.kind=='ma50'"}],"mark":{"type":"text","fontWeight":"bold","fontSize":9.5,"color":"#cf3f4a"},"encoding":{"y":{"field":"p","type":"quantitative"},"text":{"field":"label"}}},
{"data":{"name":"notes"},"transform":[{"filter":"datum.kind=='ma200'"}],"mark":{"type":"text","fontWeight":"bold","fontSize":9.5,"color":"#2a2ab8"},"encoding":{"y":{"field":"p","type":"quantitative"},"text":{"field":"label"}}},
{"data":{"name":"notes"},"transform":[{"filter":"datum.kind=='chip'"}],"mark":{"type":"text","fontSize":9.5,"align":"left","color":"#44505e"},"encoding":{"y":{"field":"p","type":"quantitative"},"text":{"field":"label"}}},
{"data":{"name":"notes"},"transform":[{"filter":"datum.kind=='param'"}],"mark":{"type":"text","fontSize":8,"align":"left","color":"#6f7a88"},"encoding":{"y":{"field":"p","type":"quantitative"},"text":{"field":"label"}}},
{"data":{"name":"notes"},"transform":[{"filter":"datum.kind=='prt'"}],"mark":{"type":"text","fontSize":8.8,"align":"left","color":"#555555"},"encoding":{"y":{"field":"p","type":"quantitative"},"text":{"field":"label"}}},
{"data":{"name":"notes"},"transform":[{"filter":"datum.kind=='eod'"}],"mark":{"type":"text","fontSize":9,"align":"left","color":"#aaaaaa"},"encoding":{"y":{"field":"p","type":"quantitative"},"text":{"field":"label"}}},
{"data":{"values":[{"d":"2022-08-27","p":26527,"t":"⬆"}]},"mark":{"type":"text","fontSize":11,"font":"DejaVu Sans","color":"#1c8a3a"},"encoding":{"y":{"field":"p","type":"quantitative"},"text":{"field":"t"}}},
{"data":{"values":[{"d":"2022-09-20","p":26527,"t":"⬇"}]},"mark":{"type":"text","fontSize":11,"font":"DejaVu Sans","color":"#d9303a"},"encoding":{"y":{"field":"p","type":"quantitative"},"text":{"field":"t"}}},
{"data":{"values":[{"d":"2022-12-20","p":26527,"t":"☰"}]},"mark":{"type":"text","fontSize":10,"font":"DejaVu Sans","color":"#333333"},"encoding":{"y":{"field":"p","type":"quantitative"},"text":{"field":"t"}}},
{"data":{"values":[{"d":"2026-01-25","p":11344,"t":"i"}]},"mark":{"type":"text","fontSize":9,"fontWeight":"bold","color":"#444444"},"encoding":{"y":{"field":"p","type":"quantitative"},"text":{"field":"t"}}},
{"data":{"values":[{"d":"2026-01-18","e":"2026-02-01"}],"format":{"parse":{"d":"date","e":"date"}}},"mark":{"type":"rect","fillOpacity":0,"stroke":"#888888","strokeWidth":1},"encoding":{"x2":{"field":"e"},"y":{"datum":11476,"type":"quantitative"},"y2":{"datum":11212}}},
{"data":{"name":"flags"},"transform":[{"filter":"datum.panel=='price'"}],"mark":{"type":"rect","width":47,"height":13,"cornerRadius":2},"encoding":{"y":{"field":"p","type":"quantitative"},"fill":{"field":"kind","type":"nominal","legend":null,"scale":{"domain":["last","ma50","ma200","black","blue","sw_up","sw_dn","sw_200","sw_50"],"range":["#ffe03a","#eef3e2","#e6e6f8","#e2e2e2","#dfe6fb","#62b96e","#4a35c0","#3c3ce8","#6f9a0c"]}}}},
{"data":{"name":"flags"},"transform":[{"filter":"datum.panel=='price'"}],"mark":{"type":"rect","width":3,"height":14},"encoding":{"x":{"field":"b","type":"temporal","axis":null},"y":{"field":"p","type":"quantitative"},"color":{"field":"kind","type":"nominal","legend":null,"scale":{"domain":["last","ma50","ma200","black","blue"],"range":["#9a9a9a","#7a9a1a","#2a2acc","#000000","#2244dd"]}}}},
{"data":{"name":"flags"},"transform":[{"filter":"datum.panel=='price'"}],"mark":{"type":"text","fontSize":9.3,"color":"#333333"},"encoding":{"y":{"field":"p","type":"quantitative"},"text":{"field":"label"}}},
{"data":{"values":[{"d":"2022-08-13","e":"2026-05-09"}],"format":{"parse":{"d":"date","e":"date"}}},"mark":{"type":"rule","color":"#d8d8d8"},"encoding":{"x2":{"field":"e"},"y":{"datum":11107,"type":"quantitative"}}}
]},
{
"width":975,"height":77,"view":{"fill":"#fbfbfb","stroke":null},
"encoding":{"x":{"field":"d","type":"temporal","axis":null,"scale":{"domain":["2022-08-11","2026-03-05"],"nice":false,"padding":0}}},
"layer":[
{"data":{"name":"macd"},"mark":{"type":"area","color":"#8fdd8c"},"encoding":{"y":{"field":"pos","type":"quantitative","scale":{"domain":[-591,1159],"nice":false,"zero":false},"axis":{"orient":"right","title":null,"labels":false,"values":[-500,0,1000]}},"y2":{"datum":0}}},
{"data":{"name":"macd"},"mark":{"type":"area","color":"#8a8ae0"},"encoding":{"y":{"field":"neg","type":"quantitative"},"y2":{"datum":0}}},
{"data":{"name":"macd"},"mark":{"type":"area","color":"#4a55dd"},"encoding":{"y":{"field":"m","type":"quantitative"},"y2":{"field":"hi"}}},
{"data":{"name":"macd"},"mark":{"type":"area","color":"#22c233"},"encoding":{"y":{"field":"hi","type":"quantitative"},"y2":{"field":"s"}}},
{"data":{"name":"macd"},"mark":{"type":"line","clip":true,"color":"#2a8a9a","strokeWidth":1},"encoding":{"y":{"field":"s","type":"quantitative"}}},
{"data":{"name":"macd"},"mark":{"type":"line","clip":true,"color":"#000000","strokeWidth":1.8},"encoding":{"y":{"field":"m","type":"quantitative"}}},
{"data":{"name":"levels"},"transform":[{"filter":"datum.panel=='macd'"}],"mark":{"type":"line","clip":true,"color":"#000000","strokeWidth":2},"encoding":{"y":{"field":"lv","type":"quantitative"}}},
{"data":{"values":[{"d":"2022-08-15","e":"2022-11-28"}],"format":{"parse":{"d":"date","e":"date"}}},"mark":{"type":"rect","fill":"#f3f5f8","stroke":"#e2e6ec","cornerRadius":3},"encoding":{"x2":{"field":"e"},"y":{"datum":1068,"type":"quantitative"},"y2":{"datum":727}}},
{"data":{"values":[{"d":"2022-08-20","e":"2022-08-31"}],"format":{"parse":{"d":"date","e":"date"}}},"mark":{"type":"rect","fill":"#1530b0"},"encoding":{"x2":{"field":"e"},"y":{"datum":1023,"type":"quantitative"},"y2":{"datum":773}}},
{"data":{"values":[{"d":"2022-09-04","p":898,"t":"MACD"}]},"mark":{"type":"text","fontSize":9.5,"align":"left","color":"#44505e"},"encoding":{"y":{"field":"p","type":"quantitative"},"text":{"field":"t"}}},
{"data":{"values":[{"d":"2022-10-11","p":898,"t":"(12 26 9)"}]},"mark":{"type":"text","fontSize":8,"align":"left","color":"#6f7a88"},"encoding":{"y":{"field":"p","type":"quantitative"},"text":{"field":"t"}}},
{"data":{"values":[{"d":"2026-03-11","p":1000,"t":"1.000"},{"d":"2026-03-11","p":0,"t":"0"},{"d":"2026-03-11","p":-500,"t":"-500"}]},"mark":{"type":"text","fontSize":9.5,"align":"left","color":"#aaaaaa"},"encoding":{"y":{"field":"p","type":"quantitative"},"text":{"field":"t"}}},
{"data":{"name":"flags"},"transform":[{"filter":"datum.panel=='macd'"}],"mark":{"type":"rect","width":32,"height":13,"cornerRadius":2},"encoding":{"y":{"field":"p","type":"quantitative"},"fill":{"field":"kind","type":"nominal","legend":null,"scale":{"domain":["black","blue"],"range":["#e2e2e2","#dfe6fb"]}}}},
{"data":{"name":"flags"},"transform":[{"filter":"datum.panel=='macd'"}],"mark":{"type":"rect","width":3,"height":14},"encoding":{"x":{"field":"b","type":"temporal","axis":null},"y":{"field":"p","type":"quantitative"},"color":{"field":"kind","type":"nominal","legend":null,"scale":{"domain":["black","blue"],"range":["#000000","#2244dd"]}}}},
{"data":{"name":"flags"},"transform":[{"filter":"datum.panel=='macd'"}],"mark":{"type":"text","fontSize":9.3,"color":"#333333"},"encoding":{"y":{"field":"p","type":"quantitative"},"text":{"field":"label"}}},
{"data":{"values":[{"d":"2022-08-13","e":"2026-05-09"}],"format":{"parse":{"d":"date","e":"date"}}},"mark":{"type":"rule","color":"#d8d8d8"},"encoding":{"x2":{"field":"e"},"y":{"datum":-591,"type":"quantitative"}}}
]},
{
"width":975,"height":82,"view":{"fill":"#fbfbfb","stroke":null},
"encoding":{"x":{"field":"d","type":"temporal","axis":null,"scale":{"domain":["2022-08-11","2026-03-05"],"nice":false,"padding":0}}},
"layer":[
{"data":{"name":"stochK"},"mark":{"type":"area","color":"#12b020"},"encoding":{"y":{"field":"up","type":"quantitative","scale":{"domain":[-4.2,109.7],"nice":false,"zero":false},"axis":{"orient":"right","title":null,"labels":false,"values":[0,100]}},"y2":{"datum":50}}},
{"data":{"name":"stochK"},"mark":{"type":"area","color":"#5a60d8"},"encoding":{"y":{"field":"dn","type":"quantitative"},"y2":{"datum":50}}},
{"data":{"name":"stochK"},"mark":{"type":"line","clip":true,"color":"#1a4a1a","strokeWidth":0.8},"encoding":{"y":{"field":"k","type":"quantitative"}}},
{"data":{"name":"stochD"},"mark":{"type":"line","clip":true,"color":"#4f60b8","strokeWidth":1,"interpolate":"monotone"},"encoding":{"y":{"field":"v","type":"quantitative"}}},
{"data":{"name":"levels"},"transform":[{"filter":"datum.panel=='stoch' && datum.lv==70"}],"mark":{"type":"line","clip":true,"color":"#7a6a10","strokeWidth":1.5},"encoding":{"y":{"field":"lv","type":"quantitative"}}},
{"data":{"name":"levels"},"transform":[{"filter":"datum.panel=='stoch' && datum.lv==50"}],"mark":{"type":"line","clip":true,"color":"#000000","strokeWidth":2},"encoding":{"y":{"field":"lv","type":"quantitative"}}},
{"data":{"name":"levels"},"transform":[{"filter":"datum.panel=='stoch' && datum.lv==30"}],"mark":{"type":"line","clip":true,"color":"#2222cc","strokeWidth":1.5},"encoding":{"y":{"field":"lv","type":"quantitative"}}},
{"data":{"values":[{"d":"2022-08-15","e":"2022-12-17"}],"format":{"parse":{"d":"date","e":"date"}}},"mark":{"type":"rect","fill":"#f3f5f8","stroke":"#e2e6ec","cornerRadius":3},"encoding":{"x2":{"field":"e"},"y":{"datum":103,"type":"quantitative"},"y2":{"datum":81}}},
{"data":{"values":[{"d":"2022-08-20","e":"2022-08-31"}],"format":{"parse":{"d":"date","e":"date"}}},"mark":{"type":"rect","fill":"#0a0a90"},"encoding":{"x2":{"field":"e"},"y":{"datum":100,"type":"quantitative"},"y2":{"datum":83}}},
{"data":{"values":[{"d":"2022-09-04","p":92,"t":"Stochastic"}]},"mark":{"type":"text","fontSize":9.5,"align":"left","color":"#44505e"},"encoding":{"y":{"field":"p","type":"quantitative"},"text":{"field":"t"}}},
{"data":{"values":[{"d":"2022-11-06","p":92,"t":"(14 3 5)"}]},"mark":{"type":"text","fontSize":8,"align":"left","color":"#6f7a88"},"encoding":{"y":{"field":"p","type":"quantitative"},"text":{"field":"t"}}},
{"data":{"values":[{"d":"2026-03-11","p":101.4,"t":"100"},{"d":"2026-03-11","p":81.7,"t":"80"},{"d":"2026-03-11","p":62,"t":"60"},{"d":"2026-03-11","p":42.2,"t":"40"},{"d":"2026-03-11","p":22.5,"t":"20"},{"d":"2026-03-11","p":2.8,"t":"0"}]},"mark":{"type":"text","fontSize":9.5,"align":"left","color":"#aaaaaa"},"encoding":{"y":{"field":"p","type":"quantitative"},"text":{"field":"t"}}},
{"data":{"name":"flags"},"transform":[{"filter":"datum.panel=='stoch'"}],"mark":{"type":"rect","width":32,"height":13,"cornerRadius":2},"encoding":{"y":{"field":"p","type":"quantitative"},"fill":{"field":"kind","type":"nominal","legend":null,"scale":{"domain":["black","blue"],"range":["#e2e2e2","#dfe6fb"]}}}},
{"data":{"name":"flags"},"transform":[{"filter":"datum.panel=='stoch'"}],"mark":{"type":"rect","width":3,"height":14},"encoding":{"x":{"field":"b","type":"temporal","axis":null},"y":{"field":"p","type":"quantitative"},"color":{"field":"kind","type":"nominal","legend":null,"scale":{"domain":["black","blue"],"range":["#000000","#0a0a90"]}}}},
{"data":{"name":"flags"},"transform":[{"filter":"datum.panel=='stoch'"}],"mark":{"type":"text","fontSize":9.3,"color":"#333333"},"encoding":{"y":{"field":"p","type":"quantitative"},"text":{"field":"label"}}},
{"data":{"values":[{"d":"2022-08-13","e":"2026-05-09"}],"format":{"parse":{"d":"date","e":"date"}}},"mark":{"type":"rule","color":"#d8d8d8"},"encoding":{"x2":{"field":"e"},"y":{"datum":-4.2,"type":"quantitative"}}}
]},
{
"width":975,"height":85,"view":{"fill":"#f9f9f9","stroke":null},
"encoding":{"x":{"field":"d","type":"temporal","title":null,"scale":{"domain":["2022-08-11","2026-03-05"],"nice":false,"padding":0},"axis":{"orient":"bottom","title":null,"labelFontSize":9.5,"labelPadding":2,"labelOverlap":false,"labelBound":false,"labelFlush":false,
 "values":["2022-09-04","2022-11-06","2023-01-01","2023-03-06","2023-05-01","2023-07-03","2023-09-03","2023-11-04","2024-01-01","2024-03-04","2024-05-05","2024-07-01","2024-09-01","2024-11-04","2025-01-05","2025-03-03","2025-05-04","2025-07-06","2025-09-01","2025-11-02","2026-01-04","2026-03-01"],
 "labelExpr":"utcmonth(datum.value)==0 ? ''+utcyear(datum.value) : ['jan','feb','mrt','apr','mei','jun','jul','aug','sep','okt','nov','dec'][utcmonth(datum.value)]",
 "labelColor":{"condition":{"test":"utcmonth(datum.value)==0","value":"#555555"},"value":"#aaaaaa"}}}},
"layer":[
{"data":{"name":"rsi"},"mark":{"type":"area","color":"#5f9f5f"},"encoding":{"y":{"field":"up","type":"quantitative","scale":{"domain":[-2.7,110.2],"nice":false,"zero":false},"axis":{"orient":"right","title":null,"labels":false,"values":[0,100]}},"y2":{"datum":50}}},
{"data":{"name":"rsi"},"mark":{"type":"area","color":"#0c6b14"},"encoding":{"y":{"field":"over","type":"quantitative"},"y2":{"datum":68}}},
{"data":{"name":"rsi"},"mark":{"type":"area","color":"#5060a8"},"encoding":{"y":{"field":"dn","type":"quantitative"},"y2":{"datum":50}}},
{"data":{"name":"rsi"},"mark":{"type":"line","clip":true,"color":"#2f4f2f","strokeWidth":0.7},"encoding":{"y":{"field":"r","type":"quantitative"}}},
{"data":{"name":"levels"},"transform":[{"filter":"datum.panel=='rsi' && datum.lv==68"}],"mark":{"type":"line","clip":true,"color":"#5a7a1a","strokeWidth":1},"encoding":{"y":{"field":"lv","type":"quantitative"}}},
{"data":{"name":"levels"},"transform":[{"filter":"datum.panel=='rsi' && datum.lv==50"}],"mark":{"type":"line","clip":true,"color":"#000000","strokeWidth":2},"encoding":{"y":{"field":"lv","type":"quantitative"}}},
{"data":{"name":"levels"},"transform":[{"filter":"datum.panel=='rsi' && datum.lv==28"}],"mark":{"type":"line","clip":true,"color":"#8a80c0","strokeWidth":1.2},"encoding":{"y":{"field":"lv","type":"quantitative"}}},
{"data":{"values":[{"d":"2022-08-15","e":"2022-10-19"}],"format":{"parse":{"d":"date","e":"date"}}},"mark":{"type":"rect","fill":"#f3f5f8","stroke":"#e2e6ec","cornerRadius":3},"encoding":{"x2":{"field":"e"},"y":{"datum":104,"type":"quantitative"},"y2":{"datum":82}}},
{"data":{"values":[{"d":"2022-08-20","e":"2022-08-31"}],"format":{"parse":{"d":"date","e":"date"}}},"mark":{"type":"rect","fill":"#000000"},"encoding":{"x2":{"field":"e"},"y":{"datum":101,"type":"quantitative"},"y2":{"datum":85}}},
{"data":{"values":[{"d":"2022-09-04","p":93,"t":"RSI"}]},"mark":{"type":"text","fontSize":9.5,"align":"left","color":"#44505e"},"encoding":{"y":{"field":"p","type":"quantitative"},"text":{"field":"t"}}},
{"data":{"values":[{"d":"2022-09-25","p":93,"t":"(14)"}]},"mark":{"type":"text","fontSize":8,"align":"left","color":"#6f7a88"},"encoding":{"y":{"field":"p","type":"quantitative"},"text":{"field":"t"}}},
{"data":{"values":[{"d":"2026-03-11","p":100,"t":"100"},{"d":"2026-03-11","p":80,"t":"80"},{"d":"2026-03-11","p":60,"t":"60"},{"d":"2026-03-11","p":40,"t":"40"},{"d":"2026-03-11","p":20,"t":"20"},{"d":"2026-03-11","p":0,"t":"0"}]},"mark":{"type":"text","fontSize":9.5,"align":"left","color":"#aaaaaa"},"encoding":{"y":{"field":"p","type":"quantitative"},"text":{"field":"t"}}},
{"data":{"name":"flags"},"transform":[{"filter":"datum.panel=='rsi'"}],"mark":{"type":"rect","width":28,"height":13,"cornerRadius":2,"fill":"#e2e2e2"},"encoding":{"y":{"field":"p","type":"quantitative"}}},
{"data":{"name":"flags"},"transform":[{"filter":"datum.panel=='rsi'"}],"mark":{"type":"rect","width":3,"height":14,"fill":"#000000"},"encoding":{"x":{"field":"b","type":"temporal"},"y":{"field":"p","type":"quantitative"}}},
{"data":{"name":"flags"},"transform":[{"filter":"datum.panel=='rsi'"}],"mark":{"type":"text","fontSize":9.3,"color":"#333333"},"encoding":{"y":{"field":"p","type":"quantitative"},"text":{"field":"label"}}}
]}
]
}
